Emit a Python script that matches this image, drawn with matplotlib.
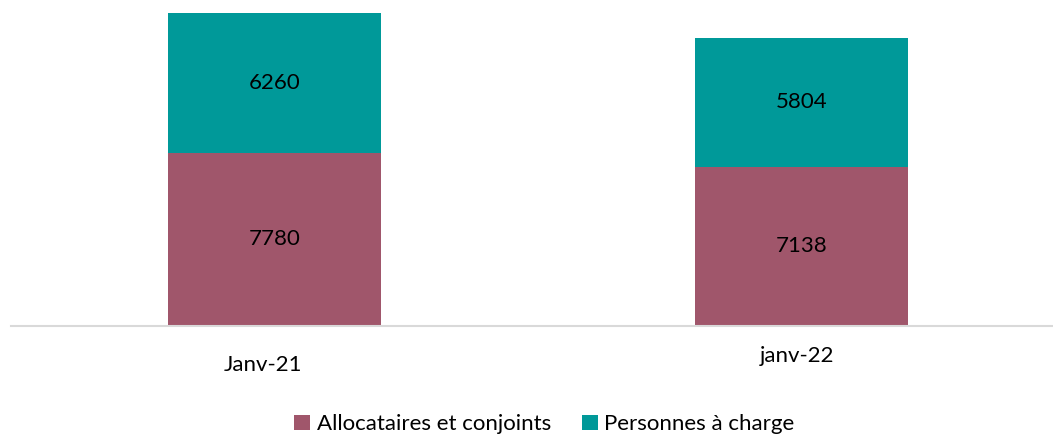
import matplotlib.pyplot as plt
import matplotlib.transforms as mtransforms

# Data
periods = ['Janv-21', 'janv-22']
allocataires = [7780, 7138]
personnes_charge = [6260, 5804]

col_alloc = '#A0566B'
col_pers = '#009999'

plt.rcParams['font.family'] = ['Lato', 'DejaVu Sans']

fig = plt.figure(figsize=(10.53, 4.4), dpi=100)
ax = fig.add_axes([11 / 1053, 114 / 440, 1042 / 1053, 321 / 440])

x = list(range(len(periods)))
width = 0.404
b1 = ax.bar(x, allocataires, width, color=col_alloc, label='Allocataires et conjoints')
b2 = ax.bar(x, personnes_charge, width, bottom=allocataires, color=col_pers,
            label='Personnes à charge')

for bars in (b1, b2):
    ax.bar_label(bars, label_type='center', fontsize=16, color='black')

ax.set_xlim(-0.5, 1.477)
ax.set_ylim(0, 14400)
ax.set_yticks([])
for s in ['top', 'right', 'left']:
    ax.spines[s].set_visible(False)
ax.spines['bottom'].set_color('#D9D9D9')
ax.spines['bottom'].set_linewidth(1.5)

ax.set_xticks(x, periods, fontsize=16)
ax.tick_params(axis='x', length=0, pad=0)
# excel places the two category labels slightly differently
offsets = [(-12, -29), (-4.5, -20)]
for lab, (dx, dy) in zip(ax.get_xticklabels(), offsets):
    lab.set_transform(lab.get_transform() +
                      mtransforms.ScaledTranslation(dx / 100, dy / 100, fig.dpi_scale_trans))

fig.legend(loc='center', bbox_to_anchor=(0.517, 0.036), ncol=2, frameon=False,
           fontsize=16, handlelength=0.7, handleheight=0.7, handletextpad=0.3,
           columnspacing=1.4, borderaxespad=0)

fig.savefig('out.png', dpi=100)
